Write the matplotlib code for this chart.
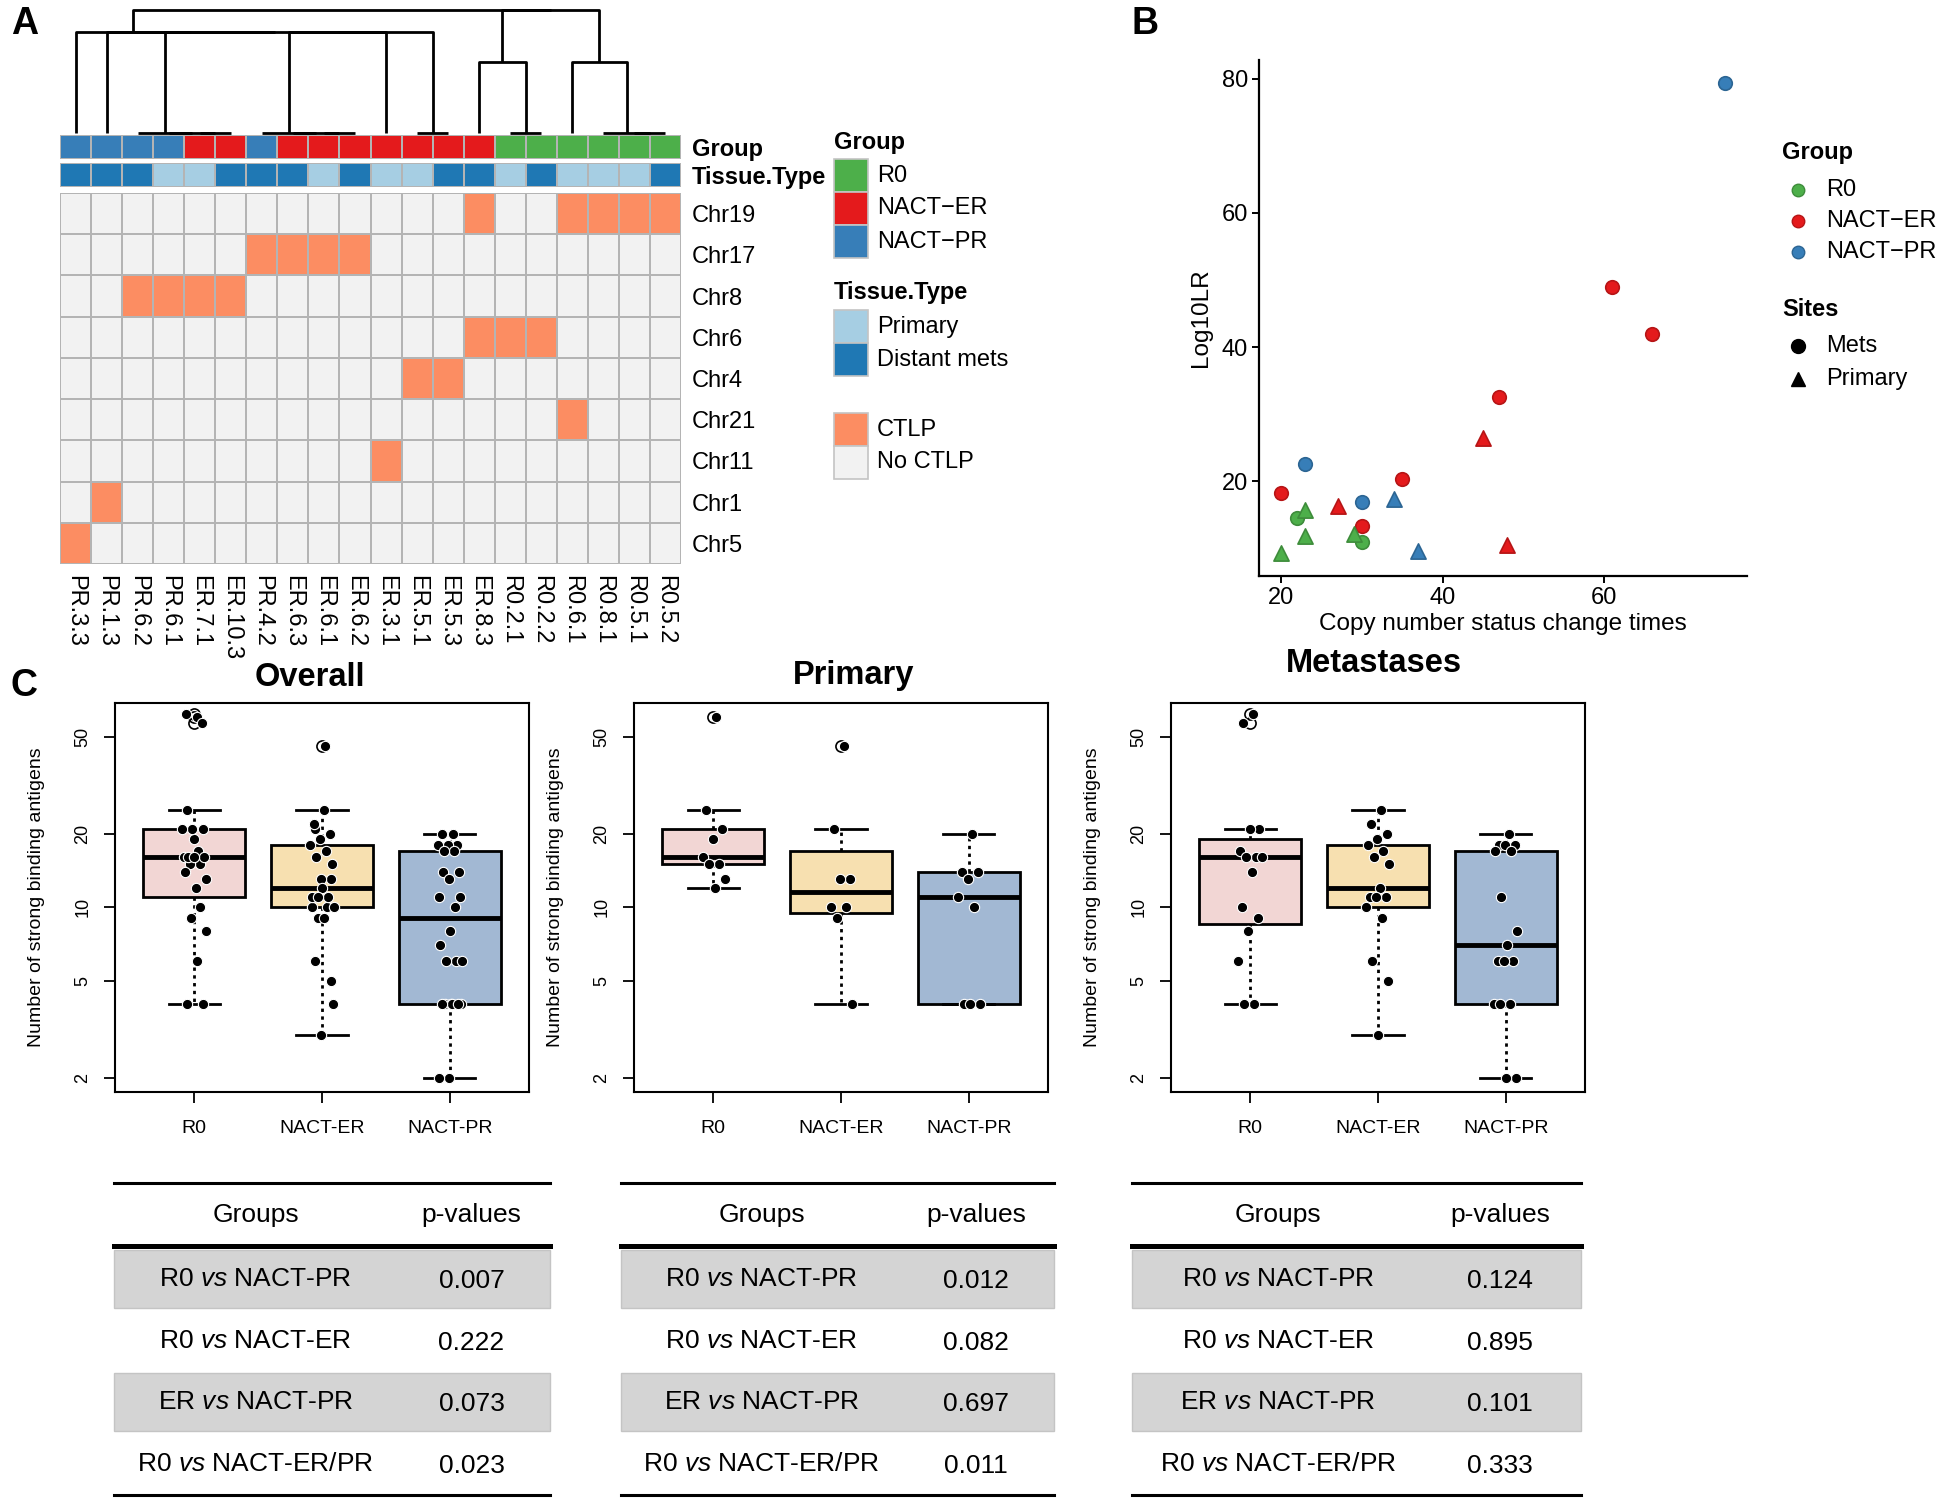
import numpy as np
import matplotlib
matplotlib.use('Agg')
import matplotlib.pyplot as plt
from matplotlib.colors import ListedColormap, to_rgb
from matplotlib.patches import Rectangle
from matplotlib.ticker import NullLocator

plt.rcParams['font.family'] = ['Liberation Sans', 'DejaVu Sans']
plt.rcParams['mathtext.fontset'] = 'custom'
plt.rcParams['mathtext.rm'] = 'Liberation Sans'
plt.rcParams['mathtext.it'] = 'Liberation Sans:italic'

# ---------------- panel A data
samples = ['PR.3.3', 'PR.1.3', 'PR.6.2', 'PR.6.1', 'ER.7.1', 'ER.10.3', 'PR.4.2',
           'ER.6.3', 'ER.6.1', 'ER.6.2', 'ER.3.1', 'ER.5.1', 'ER.5.3', 'ER.8.3',
           'R0.2.1', 'R0.2.2', 'R0.6.1', 'R0.8.1', 'R0.5.1', 'R0.5.2']
sample_group = ['NACT\u2212PR'] * 4 + ['NACT\u2212ER'] * 2 + ['NACT\u2212PR'] + \
               ['NACT\u2212ER'] * 7 + ['R0'] * 6
sample_tissue = ['Distant mets', 'Distant mets', 'Distant mets', 'Primary', 'Primary',
                 'Distant mets', 'Distant mets', 'Distant mets', 'Primary', 'Distant mets',
                 'Primary', 'Primary', 'Distant mets', 'Distant mets', 'Primary',
                 'Distant mets', 'Primary', 'Primary', 'Primary', 'Distant mets']
chroms = ['Chr19', 'Chr17', 'Chr8', 'Chr6', 'Chr4', 'Chr21', 'Chr11', 'Chr1', 'Chr5']
ctlp = {
    'Chr19': ['ER.8.3', 'R0.6.1', 'R0.8.1', 'R0.5.1', 'R0.5.2'],
    'Chr17': ['PR.4.2', 'ER.6.3', 'ER.6.1', 'ER.6.2'],
    'Chr8': ['PR.6.2', 'PR.6.1', 'ER.7.1', 'ER.10.3'],
    'Chr6': ['ER.8.3', 'R0.2.1', 'R0.2.2'],
    'Chr4': ['ER.5.1', 'ER.5.3'],
    'Chr21': ['R0.6.1'],
    'Chr11': ['ER.3.1'],
    'Chr1': ['PR.1.3'],
    'Chr5': ['PR.3.3'],
}
# column dendrogram (leaf index, leaf index, merge height)
h_left, h_right, h_top = 0.82, 0.58, 1.0
c_chr8 = (2, (3, (4, 5, 0.0), 0.0), 0.0)
c_chr17 = (6, (7, (8, 9, 0.0), 0.0), 0.0)
c_chr4 = (11, 12, 0.0)
left_tree = (0, (1, (c_chr8, ((c_chr17, 10, h_left), c_chr4, h_left), h_left), h_left), h_left)
right_tree = ((13, (14, 15, 0.0), h_right), (16, (17, (18, 19, 0.0), 0.0), h_right), h_top)
tree = (left_tree, right_tree, h_top)

group_colors = {'R0': '#4DAF4A', 'NACT\u2212ER': '#E41A1C', 'NACT\u2212PR': '#377EB8'}
tissue_colors = {'Primary': '#A6CEE3', 'Distant mets': '#1F78B4'}
ctlp_colors = {'CTLP': '#FC8D62', 'No CTLP': '#F2F2F2'}

# ---------------- panel B data
cn_changes = [75, 61, 66, 47, 45, 23, 35, 20, 34, 30, 27, 23, 22, 30, 23, 29, 30, 48, 37, 20]
log10lr = [79.3, 49.0, 41.9, 32.6, 26.4, 22.6, 20.3, 18.3, 17.4, 16.9, 16.4, 15.8, 14.6,
           13.4, 11.9, 12.1, 10.9, 10.5, 9.6, 9.3]
pt_group = ['NACT\u2212PR', 'NACT\u2212ER', 'NACT\u2212ER', 'NACT\u2212ER', 'NACT\u2212ER',
            'NACT\u2212PR', 'NACT\u2212ER', 'NACT\u2212ER', 'NACT\u2212PR', 'NACT\u2212PR',
            'NACT\u2212ER', 'R0', 'R0', 'NACT\u2212ER', 'R0', 'R0', 'R0', 'NACT\u2212ER',
            'NACT\u2212PR', 'R0']
pt_site = ['Mets', 'Mets', 'Mets', 'Mets', 'Primary', 'Mets', 'Mets', 'Mets', 'Primary',
           'Mets', 'Primary', 'Primary', 'Mets', 'Mets', 'Primary', 'Primary', 'Mets',
           'Primary', 'Primary', 'Primary']

# ---------------- panel C data
box_groups = ['R0', 'NACT-ER', 'NACT-PR']
prim_r0 = [60, 25, 21, 19, 16, 15, 15, 13, 12]
prim_er = [46, 21, 13, 13, 10, 10, 9, 4]
prim_pr = [20, 14, 14, 13, 11, 10, 4, 4, 4]
mets_r0 = [62, 57, 21, 21, 17, 16, 16, 16, 14, 10, 9, 8, 6, 4, 4]
mets_er = [25, 22, 20, 19, 18, 17, 16, 15, 12, 11, 11, 11, 10, 9, 6, 5, 3]
mets_pr = [20, 18, 18, 18, 17, 17, 11, 8, 7, 6, 6, 6, 4, 4, 4, 2, 2]
box_colors = ['#F2D6D4', '#F7E0B0', '#A2B8D3']

comparisons = [r'R0 $\mathit{vs}$ NACT-PR', r'R0 $\mathit{vs}$ NACT-ER',
               r'ER $\mathit{vs}$ NACT-PR', r'R0 $\mathit{vs}$ NACT-ER/PR']
pv_overall = ['0.007', '0.222', '0.073', '0.023']
pv_primary = ['0.012', '0.082', '0.697', '0.011']
pv_mets = ['0.124', '0.895', '0.101', '0.333']

# ---------------- figure
W, H = 1950, 1505
fig = plt.figure(figsize=(W / 100, H / 100), dpi=100)


def px_axes(x0, y0, x1, y1):
    return fig.add_axes([x0 / W, 1 - y1 / H, (x1 - x0) / W, (y1 - y0) / H])


ov = px_axes(0, 0, W, H)
ov.set_xlim(0, W)
ov.set_ylim(H, 0)
ov.axis('off')

FS = 17
for lab, x, y in [('A', 11, 24), ('B', 1132, 24), ('C', 10, 686)]:
    ov.text(x, y, lab, fontsize=27, fontweight='bold', ha='left', va='center')

# ---- A: dendrogram
axd = px_axes(60, 10, 681, 133)
axd.set_xlim(0, len(samples))
axd.set_ylim(0, h_top)
axd.axis('off')


def dendro(node):
    if isinstance(node, int):
        return node + 0.5, 0.0
    left, right, h = node
    xl, hl = dendro(left)
    xr, hr = dendro(right)
    axd.plot([xl, xl, xr, xr], [hl, h, h, hr], color='black', lw=2.0,
             clip_on=False, solid_capstyle='butt')
    return (xl + xr) / 2, h


dendro(tree)

edge = '#b4b4b4'
# ---- A: annotation bars
for (y0, y1), colors, name in [((135, 159), [group_colors[g] for g in sample_group], 'Group'),
                               ((163, 187), [tissue_colors[t] for t in sample_tissue], 'Tissue.Type')]:
    axa = px_axes(60, y0, 681, y1)
    rgb = np.array([[to_rgb(c) for c in colors]])
    axa.pcolormesh(rgb, edgecolors=edge, linewidth=1.2)
    axa.set_xlim(0, len(samples))
    axa.set_ylim(1, 0)
    axa.set_xticks([])
    axa.yaxis.tick_right()
    axa.set_yticks([0.5], [name], fontsize=FS, fontweight='bold')
    axa.tick_params(axis='y', length=0, pad=8)
    for s in axa.spines.values():
        s.set_visible(False)

# ---- A: heatmap
mat = np.array([[1 if s in ctlp[c] else 0 for s in samples] for c in chroms])
axh = px_axes(60, 193, 681, 564)
axh.pcolormesh(mat, cmap=ListedColormap([ctlp_colors['No CTLP'], ctlp_colors['CTLP']]),
               vmin=0, vmax=1, edgecolors=edge, linewidth=1.2)
axh.set_xlim(0, len(samples))
axh.set_ylim(len(chroms), 0)
axh.set_xticks(np.arange(len(samples)) + 0.5, samples, rotation=-90, fontsize=FS)
axh.yaxis.tick_right()
axh.set_yticks(np.arange(len(chroms)) + 0.5, chroms, fontsize=FS)
axh.tick_params(length=0, pad=8)
for s in axh.spines.values():
    s.set_visible(False)

# ---- A: legend
def swatch_block(title, y_title, items, y_start):
    if title:
        ov.text(834, y_title, title, fontsize=FS, fontweight='bold', va='center', ha='left')
    for i, (lab, col) in enumerate(items):
        y = y_start + 33 * i
        ov.add_patch(Rectangle((834, y), 34, 33, facecolor=col, edgecolor='#c4c4c4', lw=1.2))
        ov.text(877, y + 16.5, lab, fontsize=FS, va='center', ha='left')


swatch_block('Group', 143, list(group_colors.items()), 159)
swatch_block('Tissue.Type', 293, list(tissue_colors.items()), 310)
swatch_block(None, 0, list(ctlp_colors.items()), 413)

# ---- B: scatter
axb = px_axes(1259, 60, 1747, 576)
markers = {'Mets': 'o', 'Primary': '^'}
for site in ['Mets', 'Primary']:
    for g, col in group_colors.items():
        idx = [i for i in range(len(cn_changes)) if pt_group[i] == g and pt_site[i] == site]
        if not idx:
            continue
        dark = tuple(0.8 * c for c in to_rgb(col))
        axb.scatter([cn_changes[i] for i in idx], [log10lr[i] for i in idx],
                    marker=markers[site], s=95 if site == 'Mets' else 120,
                    color=col, edgecolors=[dark], linewidths=1.2, zorder=3)
axb.set_xlim(17.25, 77.75)
axb.set_ylim(5.9, 82.8)
axb.set_xticks([20, 40, 60])
axb.set_yticks([20, 40, 60, 80])
axb.tick_params(labelsize=FS, length=5, width=1.4, pad=3)
for s in ['top', 'right']:
    axb.spines[s].set_visible(False)
for s in ['left', 'bottom']:
    axb.spines[s].set_linewidth(1.6)
axb.set_xlabel('Copy number status change times', fontsize=FS + 0.5, labelpad=3)
axb.set_ylabel('Log10LR', fontsize=FS + 0.5, labelpad=7)

# ---- B: legend
ov.text(1782, 153, 'Group', fontsize=FS, fontweight='bold', va='center', ha='left')
for i, (g, col) in enumerate(group_colors.items()):
    y = 190 + 31 * i
    ov.plot(1798, y, 'o', ms=9, color=col, mec=tuple(0.8 * c for c in to_rgb(col)))
    ov.text(1826, y, g, fontsize=FS, va='center', ha='left')
ov.text(1782, 310, 'Sites', fontsize=FS, fontweight='bold', va='center', ha='left')
for i, site in enumerate(['Mets', 'Primary']):
    y = 346 + 33 * i
    ov.plot(1798, y, markers[site], ms=10, color='black')
    ov.text(1826, y, site, fontsize=FS, va='center', ha='left')


# ---- C: boxplots
def fivenum(v):
    v = np.sort(np.asarray(v, dtype=float))
    n = len(v)
    n4 = np.floor((n + 3) / 2) / 2
    d = np.array([1, n4, (n + 1) / 2, n + 1 - n4, n])
    return 0.5 * (v[np.floor(d).astype(int) - 1] + v[np.ceil(d).astype(int) - 1])


def r_stats(v):
    v = np.asarray(v, dtype=float)
    f = fivenum(v)
    iqr = f[3] - f[1]
    lo, hi = f[1] - 1.5 * iqr, f[3] + 1.5 * iqr
    inside = v[(v >= lo) & (v <= hi)]
    return dict(med=f[2], q1=f[1], q3=f[3], whislo=inside.min(), whishi=inside.max(),
                fliers=v[(v < lo) | (v > hi)])


def box_panel(x0, title, data, tpad, tx):
    ax = px_axes(x0, 703, x0 + 414, 1092)
    bp = ax.bxp([r_stats(v) for v in data], positions=[1, 2, 3], widths=0.8, capwidths=0.4,
                patch_artist=True,
                boxprops=dict(edgecolor='black', linewidth=2.0),
                whiskerprops=dict(color='black', linewidth=2.0, linestyle=(0, (1.2, 1.6))),
                capprops=dict(color='black', linewidth=2.0),
                medianprops=dict(color='black', linewidth=3.5),
                flierprops=dict(marker='o', markerfacecolor='none', markeredgecolor='black',
                                markersize=8, markeredgewidth=1.2))
    for patch, col in zip(bp['boxes'], box_colors):
        patch.set_facecolor(col)
    for k, v in enumerate(data):
        jit = [(((i + 1) * 0.618034) % 1 - 0.5) * 0.2 for i in range(len(v))]
        ax.scatter(np.array(jit) + k + 1, v, s=55, color='black', edgecolors='white',
                   linewidths=0.8, zorder=5)
    ax.set_yscale('log')
    ax.set_ylim(1.75, 68.7)
    ax.set_xlim(0.38, 3.62)
    ax.set_yticks([2, 5, 10, 20, 50], ['2', '5', '10', '20', '50'], rotation=90, va='center')
    ax.yaxis.set_minor_locator(NullLocator())
    ax.set_xticks([1, 2, 3], box_groups)
    ax.tick_params(axis='y', labelsize=13, length=8, width=1.3, pad=9)
    ax.tick_params(axis='x', labelsize=14, length=8, width=1.3, pad=12)
    for s in ax.spines.values():
        s.set_linewidth(1.5)
    ax.set_ylabel('Number of strong binding antigens', fontsize=14, labelpad=21)
    ax.set_title(title, fontsize=23.5, fontweight='bold', pad=tpad, x=tx)
    return ax


box_panel(115, 'Overall', [prim_r0 + mets_r0, prim_er + mets_er, prim_pr + mets_pr], 12, 0.47)
box_panel(634, 'Primary', [prim_r0, prim_er, prim_pr], 14, 0.53)
box_panel(1171, 'Metastases', [mets_r0, mets_er, mets_pr], 22, 0.49)

# ---- C: p-value tables
for x0, x1, pvals in [(114, 550, pv_overall), (621, 1054, pv_primary), (1132, 1581, pv_mets)]:
    w = x1 - x0
    c1, c2 = x0 + 0.325 * w, x0 + 0.82 * w
    ov.plot([x0, x1], [1183, 1183], color='black', lw=2.2)
    ov.plot([x0, x1], [1246, 1246], color='black', lw=3.6)
    ov.plot([x0, x1], [1495, 1495], color='black', lw=2.2)
    ov.text(c1, 1215, 'Groups', fontsize=19, ha='center', va='center')
    ov.text(c2, 1215, 'p-values', fontsize=19, ha='center', va='center')
    for i, (comp, p) in enumerate(zip(comparisons, pvals)):
        yc = 1279 + 61.7 * i
        if i % 2 == 0:
            ov.add_patch(Rectangle((x0, yc - 29), w, 58, facecolor='#d4d4d4',
                                   edgecolor='#c4c4c4', lw=1))
        ov.text(c1, yc, comp, fontsize=19, ha='center', va='center')
        ov.text(c2, yc + 2, p, fontsize=19, ha='center', va='center')

fig.savefig('out.png', dpi=100)
